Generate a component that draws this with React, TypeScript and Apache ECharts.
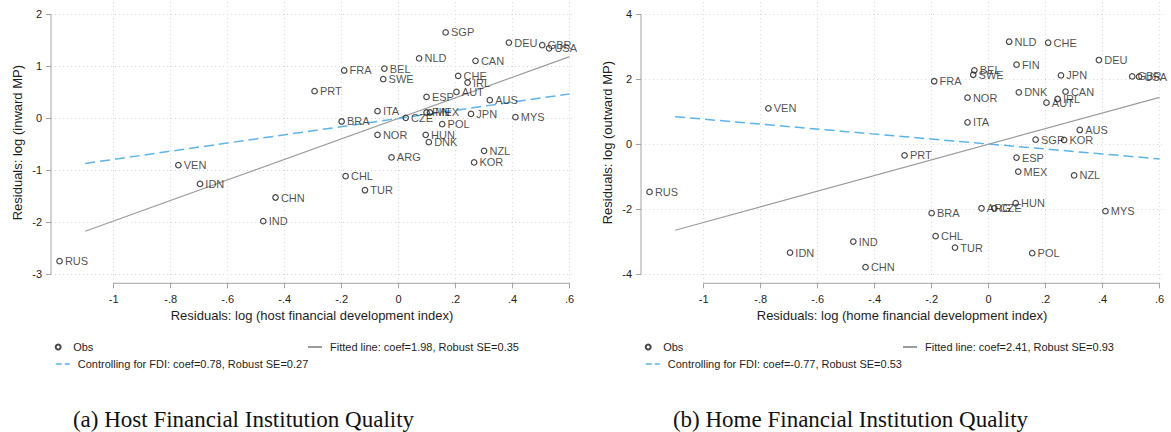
import React, { useEffect, useRef } from "react";
import * as echarts from "echarts";

// ---------- data ----------
const countries = [
  "SGP", "DEU", "GBR", "USA", "NLD", "CAN", "FRA", "BEL", "SWE", "CHE", "IRL", "PRT",
  "AUT", "ESP", "AUS", "ITA", "FIN", "MEX", "JPN", "CZE", "MYS", "BRA", "POL", "NOR",
  "HUN", "DNK", "NZL", "ARG", "KOR", "CHL", "TUR", "VEN", "IDN", "CHN", "IND", "RUS",
];
// panel (a): host financial development vs inward MP
const hostX = [
  0.165, 0.387, 0.504, 0.528, 0.072, 0.27, -0.191, -0.05, -0.054, 0.209, 0.242, -0.295,
  0.203, 0.098, 0.32, -0.074, 0.098, 0.11, 0.254, 0.025, 0.41, -0.2, 0.153, -0.074,
  0.095, 0.106, 0.3, -0.025, 0.265, -0.186, -0.118, -0.773, -0.697, -0.432, -0.475, -1.19,
];
const inwardY = [
  1.654, 1.46, 1.41, 1.35, 1.154, 1.108, 0.923, 0.96, 0.756, 0.82, 0.69, 0.525,
  0.51, 0.415, 0.352, 0.14, 0.115, 0.115, 0.088, 0.012, 0.025, -0.058, -0.11, -0.315,
  -0.315, -0.456, -0.623, -0.75, -0.846, -1.11, -1.38, -0.898, -1.258, -1.52, -1.975, -2.744,
];
// panel (b): home financial development vs outward MP
const homeX = [
  0.165, 0.387, 0.504, 0.528, 0.072, 0.27, -0.191, -0.05, -0.054, 0.209, 0.242, -0.295,
  0.203, 0.098, 0.32, -0.074, 0.098, 0.104, 0.254, 0.02, 0.41, -0.2, 0.153, -0.074,
  0.095, 0.106, 0.3, -0.025, 0.265, -0.186, -0.118, -0.773, -0.697, -0.432, -0.475, -1.19,
];
const outwardY = [
  0.142, 2.594, 2.09, 2.08, 3.157, 1.62, 1.94, 2.277, 2.14, 3.126, 1.394, -0.34,
  1.28, -0.41, 0.44, 0.677, 2.45, -0.84, 2.12, -1.97, -2.06, -2.12, -3.354, 1.434,
  -1.815, 1.6, -0.96, -1.97, 0.132, -2.83, -3.18, 1.108, -3.335, -3.785, -2.997, -1.468,
];
// fitted lines (end points)
const fitX = [-1.1, 0.6];
const hostFitY = [-2.17, 1.19];
const hostFdiY = [-0.865, 0.473];
const homeFitY = [-2.646, 1.446];
const homeFdiY = [0.85, -0.452];

// ticks
const xTicks = [-1, -0.8, -0.6, -0.4, -0.2, 0, 0.2, 0.4, 0.6];
const xTickLabels = ["-1", "-.8", "-.6", "-.4", "-.2", "0", ".2", ".4", ".6"];
const hostYTicks = [-3, -2, -1, 0, 1, 2];
const homeYTicks = [-4, -2, 0, 2, 4];

// texts
const obsName = "Obs";
const hostFitName = "Fitted line: coef=1.98, Robust SE=0.35";
const hostFdiName = "Controlling for FDI: coef=0.78, Robust SE=0.27";
const homeFitName = "Fitted line: coef=2.41, Robust SE=0.93";
const homeFdiName = "Controlling for FDI: coef=-0.77, Robust SE=0.53";
const hostXName = "Residuals: log (host financial development index)";
const homeXName = "Residuals: log (home financial development index)";
const hostYName = "Residuals: log (inward MP)";
const homeYName = "Residuals: log (outward MP)";
const captionA = "(a) Host Financial Institution Quality";
const captionB = "(b) Home Financial Institution Quality";

// ---------- styling ----------
const SANS = "'Liberation Sans', Arial, sans-serif";
const SERIF = "'Liberation Serif', 'Times New Roman', serif";
const AXIS_GREY = "#a3a3a3";
const FIT_GREY = "#9c9c9c";
const FDI_BLUE = "#5db4e8";
const TEXT = "#1e1e1e";
const X_MIN = -1.22;
const X_MAX = 0.612;

const panels = [
  {
    x: hostX, y: inwardY, yTicks: hostYTicks, yMin: -3.17, yMax: 2.24,
    fit: hostFitY, fdi: hostFdiY, fitName: hostFitName, fdiName: hostFdiName,
    xName: hostXName, yName: hostYName, caption: captionA,
    gridLeft: 51, obsLeft: 54.7, fitLeft: 307, fdiLeft: 55, capX: 243.5,
  },
  {
    x: homeX, y: outwardY, yTicks: homeYTicks, yMin: -4.28, yMax: 4.38,
    fit: homeFitY, fdi: homeFdiY, fitName: homeFitName, fdiName: homeFdiName,
    xName: homeXName, yName: homeYName, caption: captionB,
    gridLeft: 641, obsLeft: 644.7, fitLeft: 902, fdiLeft: 645, capX: 850.5,
  },
];

function fmtX(v: number) {
  const i = xTicks.findIndex((t) => Math.abs(t - v) < 1e-9);
  return i >= 0 ? xTickLabels[i] : "";
}

function buildOption() {
  const grid: any[] = [];
  const xAxis: any[] = [];
  const yAxis: any[] = [];
  const series: any[] = [];
  const legend: any[] = [];
  const graphic: any[] = [];

  panels.forEach((p, i) => {
    grid.push({ left: p.gridLeft, top: 2, width: 522, height: 281.3 });
    xAxis.push({
      gridIndex: i,
      type: "value",
      min: X_MIN,
      max: X_MAX,
      axisLine: { show: false, onZero: false },
      axisTick: { show: true, customValues: xTicks, length: 5, lineStyle: { color: AXIS_GREY } },
      axisLabel: {
        customValues: xTicks, formatter: fmtX, margin: 10, fontSize: 11,
        color: TEXT, fontFamily: SANS,
      },
      splitLine: { show: true, lineStyle: { color: "#d9d9d9", type: [1, 3], width: 1 } },
      name: p.xName,
      nameLocation: "middle",
      nameGap: 24,
      nameTextStyle: { fontSize: 13, color: TEXT, fontFamily: SANS },
    });
    yAxis.push({
      gridIndex: i,
      type: "value",
      min: p.yMin,
      max: p.yMax,
      axisLine: { show: false, onZero: false },
      axisTick: { show: true, customValues: p.yTicks, length: 5, lineStyle: { color: AXIS_GREY } },
      axisLabel: {
        customValues: p.yTicks, margin: 9, fontSize: 11, color: TEXT, fontFamily: SANS,
      },
      splitLine: { show: true, lineStyle: { color: "#d9d9d9", type: [1, 3], width: 1 } },
      name: p.yName,
      nameLocation: "middle",
      nameGap: 27,
      nameTextStyle: { fontSize: 13, color: TEXT, fontFamily: SANS },
    });

    // axis lines spanning only the tick range (Stata style)
    const xFirst = xTicks[0];
    const xLast = xTicks[xTicks.length - 1];
    const yFirst = p.yTicks[0];
    const yLast = p.yTicks[p.yTicks.length - 1];
    series.push({
      type: "line", name: "xaxisline" + i, xAxisIndex: i, yAxisIndex: i,
      data: [[xFirst, p.yMin], [xLast, p.yMin]], symbol: "none", silent: true, clip: false,
      lineStyle: { color: AXIS_GREY, width: 1 }, z: 1,
    });
    series.push({
      type: "line", name: "yaxisline" + i, xAxisIndex: i, yAxisIndex: i,
      data: [[X_MIN, yFirst], [X_MIN, yLast]], symbol: "none", silent: true, clip: false,
      lineStyle: { color: AXIS_GREY, width: 1 }, z: 1,
    });

    series.push({
      type: "scatter",
      name: obsName,
      xAxisIndex: i,
      yAxisIndex: i,
      symbol: "circle",
      symbolSize: 5.5,
      itemStyle: { color: "rgba(0,0,0,0)", borderColor: "#1a1a1a", borderWidth: 1.2 },
      label: {
        show: true, position: "right", distance: 2, formatter: "{b}",
        fontSize: 11, color: TEXT, fontFamily: SANS,
      },
      data: countries.map((c, k) => ({ name: c, value: [p.x[k], p.y[k]] })),
      z: 3,
    });
    series.push({
      type: "line", name: p.fitName, xAxisIndex: i, yAxisIndex: i,
      data: fitX.map((x, k) => [x, p.fit[k]]), symbol: "none",
      lineStyle: { color: FIT_GREY, width: 1.2 }, itemStyle: { color: FIT_GREY }, z: 2,
    });
    series.push({
      type: "line", name: p.fdiName, xAxisIndex: i, yAxisIndex: i,
      data: fitX.map((x, k) => [x, p.fdi[k]]), symbol: "none",
      lineStyle: { color: FDI_BLUE, width: 1.5, type: [10, 5] }, itemStyle: { color: FDI_BLUE }, z: 2,
    });

    const legendBase = {
      orient: "horizontal", padding: 0, selectedMode: false, itemGap: 0,
      itemWidth: 14, itemHeight: 5,
      textStyle: { fontSize: 11, color: TEXT, fontFamily: SANS, padding: [0, 0, 0, 3] },
    };
    const lineLegend = {
      ...legendBase,
      itemStyle: { opacity: 0, borderWidth: 0, color: "rgba(0,0,0,0)", borderColor: "rgba(0,0,0,0)" },
    };
    legend.push({ ...legendBase, data: [obsName], left: p.obsLeft, top: 341.5 });
    legend.push({ ...lineLegend, data: [p.fitName], left: p.fitLeft, top: 341.5 });
    legend.push({
      ...lineLegend,
      data: [p.fdiName], left: p.fdiLeft, top: 358.5,
      lineStyle: { type: [6, 3], width: 1.5, color: FDI_BLUE },
    });

    graphic.push({
      type: "text",
      x: p.capX,
      y: 419,
      style: {
        text: p.caption, fill: "#111", font: `23px ${SERIF}`,
        align: "center", verticalAlign: "middle",
      },
    });
  });

  return {
    animation: false,
    backgroundColor: "#ffffff",
    grid, xAxis, yAxis, series, legend, graphic,
  };
}

export default function App() {
  const ref = useRef<HTMLDivElement>(null);
  useEffect(() => {
    if (!ref.current) return;
    const chart = echarts.init(ref.current, undefined, { renderer: "svg" });
    chart.setOption(buildOption() as any);
    return () => chart.dispose();
  }, []);
  return (
    <div
      ref={ref}
      style={{ position: "absolute", left: 0, top: 0, width: 1171, height: 432, background: "#fff" }}
    />
  );
}
